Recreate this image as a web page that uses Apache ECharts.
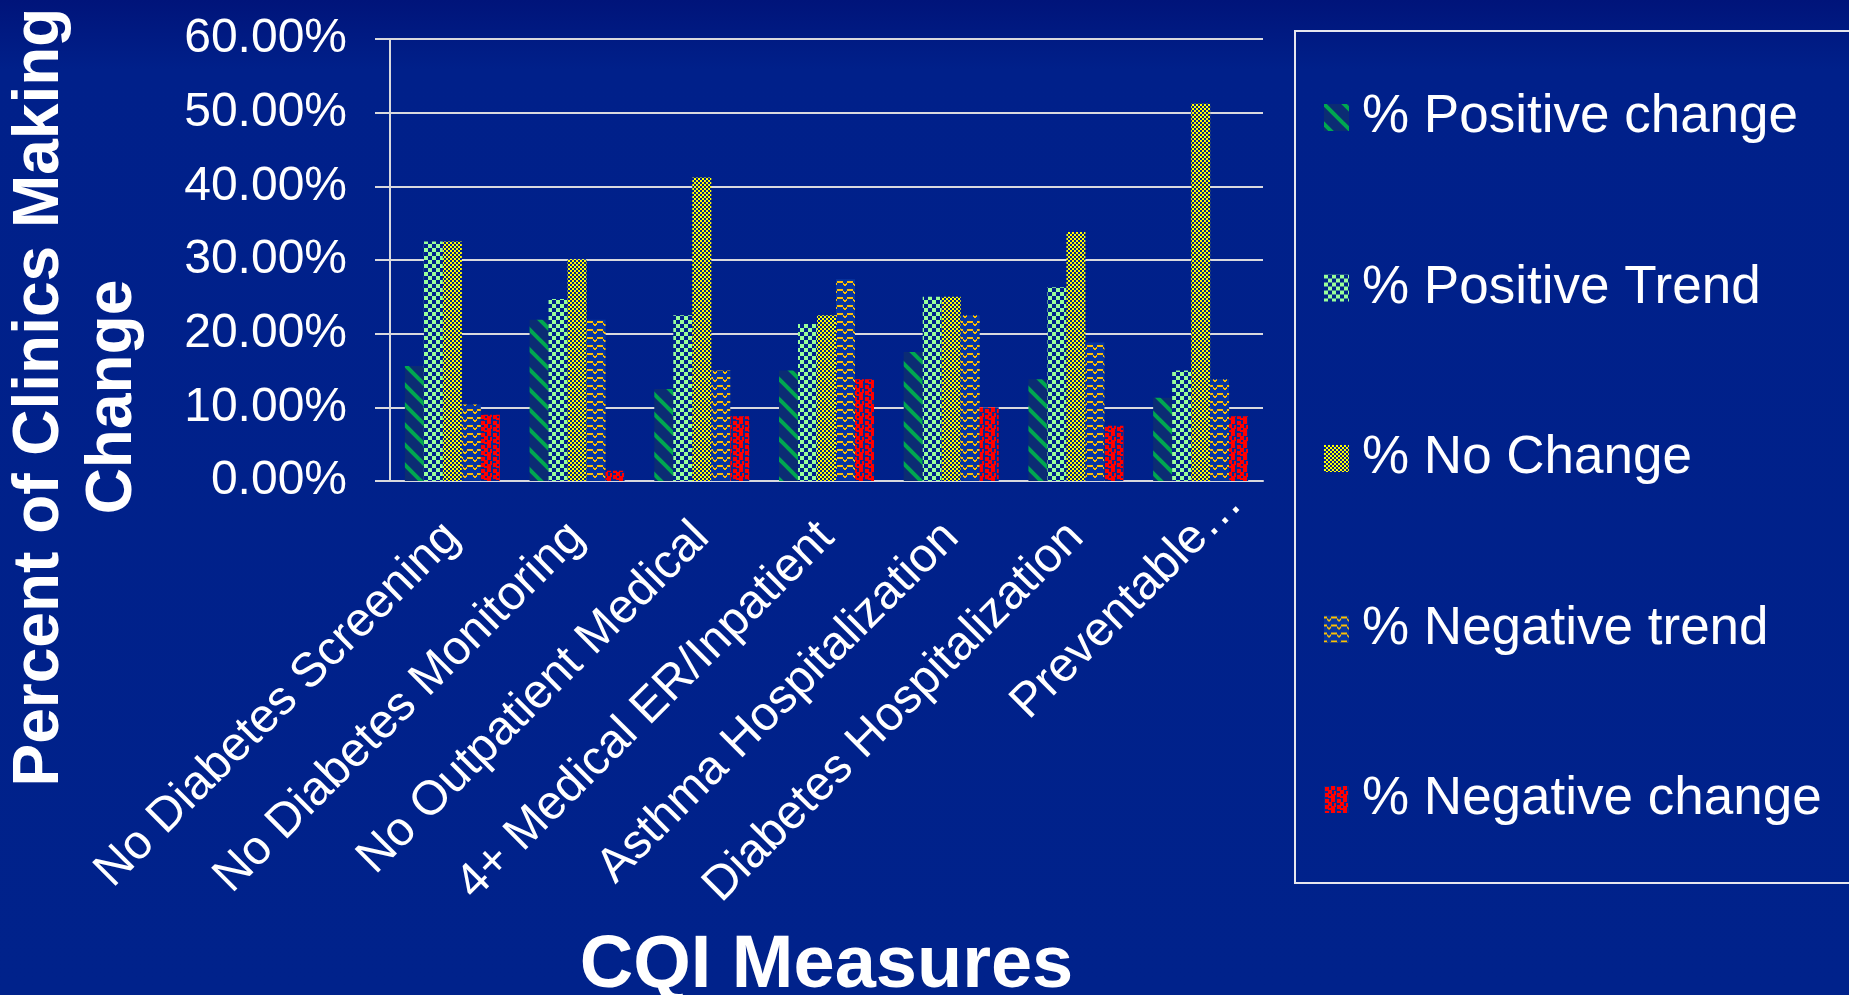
<!DOCTYPE html>
<html>
<head>
<meta charset="utf-8">
<script src="https://cdn.jsdelivr.net/npm/echarts@6/dist/echarts.min.js"></script>
<style>
  html, body { margin: 0; padding: 0; background: #00228B; }
  #chart { width: 1849px; height: 995px; }
</style>
</head>
<body>
<div id="chart"></div>
<script>
// CQI measures, percent of clinics in each change group
var categories = ['No Diabetes Screening', 'No Diabetes Monitoring', 'No Outpatient Medical',
    '4+ Medical ER/Inpatient', 'Asthma Hospitalization', 'Diabetes Hospitalization', 'Preventable…'];
var positiveChange = [15.6, 21.9, 12.5, 15.0, 17.5, 13.8, 11.3];
var positiveTrend = [32.5, 24.7, 22.5, 21.3, 25.0, 26.3, 15.0];
var noChange = [32.5, 30.1, 41.2, 22.5, 25.0, 33.8, 51.2];
var negativeTrend = [10.4, 21.9, 15.0, 27.4, 22.5, 18.8, 13.8];
var negativeChange = [9.0, 1.4, 8.8, 13.8, 10.0, 7.5, 8.8];
var seriesNames = ['% Positive change', '% Positive Trend', '% No Change', '% Negative trend', '% Negative change'];

var FONT = '"Liberation Sans", Arial, sans-serif';

function tile(w, h, bg, draw) {
    var c = document.createElement('canvas');
    c.width = w;
    c.height = h;
    var ctx = c.getContext('2d');
    ctx.fillStyle = bg;
    ctx.fillRect(0, 0, w, h);
    draw(ctx);
    return { image: c, repeat: 'repeat' };
}

// wide downward diagonal
var stripes = tile(20, 20, '#0B2C74', function (ctx) {
    ctx.strokeStyle = '#00A850';
    ctx.lineWidth = 4;
    for (var k = -20; k <= 20; k += 20) {
        ctx.beginPath();
        ctx.moveTo(k - 2, -2);
        ctx.lineTo(k + 22, 22);
        ctx.stroke();
    }
});
// large checker
var greenCheck = tile(8, 8, '#00228B', function (ctx) {
    ctx.fillStyle = '#99FF99';
    ctx.fillRect(0, 0, 4, 4);
    ctx.fillRect(4, 4, 4, 4);
});
// small checker
var yellowCheck = tile(4, 4, '#00228B', function (ctx) {
    ctx.fillStyle = '#FFFF00';
    ctx.fillRect(0, 0, 2, 2);
    ctx.fillRect(2, 2, 2, 2);
});
// wave
var wave = tile(10, 8, '#0836A0', function (ctx) {
    ctx.fillStyle = '#FFC000';
    ctx.fillRect(0, 1, 3, 2);
    ctx.fillRect(3, 3, 1, 2);
    ctx.fillRect(4, 4, 2, 2);
    ctx.fillRect(6, 3, 1, 2);
    ctx.fillRect(7, 1, 3, 2);
});
// confetti
var confetti = tile(12, 12, '#0A2A8E', function (ctx) {
    ctx.fillStyle = '#FF0000';
    [[1, 1], [7, 0], [4, 4], [10, 5], [1, 7], [7, 8], [4, 10]].forEach(function (p) {
        ctx.fillRect(p[0], p[1], 4, 4);
    });
});

var fills = [stripes, greenCheck, yellowCheck, wave, confetti];
var values = [positiveChange, positiveTrend, noChange, negativeTrend, negativeChange];

// the truncated last label sits further up the diagonal in the original
var axisData = categories.map(function (c, i) {
    if (i === categories.length - 1) {
        return { value: c, textStyle: { padding: [0, -48, 0, 0] } };
    }
    return c;
});

var chart = echarts.init(document.getElementById('chart'));

var option = {
    backgroundColor: {
        type: 'linear', x: 0, y: 0, x2: 0, y2: 1,
        colorStops: [
            { offset: 0, color: '#00147A' },
            { offset: 0.07, color: '#00208A' },
            { offset: 1, color: '#00228B' }
        ]
    },
    animation: false,
    grid: { left: 390, right: 586, top: 39, bottom: 514, containLabel: false, outerBoundsMode: 'none' },
    legend: {
        orient: 'vertical',
        left: 1319,
        top: 86,
        itemWidth: 25,
        itemHeight: 27,
        itemGap: 117.5,
        icon: 'rect',
        data: seriesNames,
        textStyle: {
            color: '#FFFFFF',
            fontFamily: FONT,
            fontSize: 53,
            lineHeight: 53,
            padding: [0, 0, 0, 8]
        }
    },
    xAxis: {
        type: 'category',
        data: axisData,
        name: 'CQI Measures',
        nameLocation: 'middle',
        nameGap: 449,
        nameTextStyle: { color: '#FFFFFF', fontFamily: FONT, fontSize: 74, fontWeight: 'bold' },
        axisLine: { lineStyle: { color: '#D9D9DE', width: 2 } },
        axisTick: { show: false },
        axisLabel: {
            interval: 0,
            rotate: 45,
            margin: 49,
            color: '#FFFFFF',
            fontFamily: FONT,
            fontSize: 48
        }
    },
    yAxis: {
        type: 'value',
        min: 0,
        max: 60,
        interval: 10,
        axisLine: { show: true, lineStyle: { color: '#D9D9DE', width: 2 } },
        axisTick: { show: true, length: 15, lineStyle: { color: '#D9D9DE', width: 2 } },
        splitLine: { lineStyle: { color: '#D9D9DE', width: 2 } },
        axisLabel: {
            margin: 43,
            color: '#FFFFFF',
            fontFamily: FONT,
            fontSize: 48,
            formatter: function (v) { return v.toFixed(2) + '%'; }
        }
    },
    graphic: [
        {
            type: 'rect',
            shape: { x: 1295, y: 31, width: 700, height: 852 },
            style: { fill: 'none', stroke: '#E6E6EE', lineWidth: 2 },
            silent: true
        },
        {
            type: 'text',
            x: 77,
            y: 397,
            rotation: Math.PI / 2,
            style: {
                text: 'Percent of Clinics Making\nChange',
                fill: '#FFFFFF',
                fontFamily: FONT,
                fontSize: 64,
                fontWeight: 'bold',
                lineHeight: 73,
                align: 'center',
                verticalAlign: 'middle'
            }
        }
    ],
    series: seriesNames.map(function (name, i) {
        return {
            name: name,
            type: 'bar',
            barWidth: 19,
            barGap: '0%',
            itemStyle: { color: fills[i] },
            data: values[i]
        };
    })
};

chart.setOption(option);

window.onresize = chart.resize;
</script>
</body>
</html>
